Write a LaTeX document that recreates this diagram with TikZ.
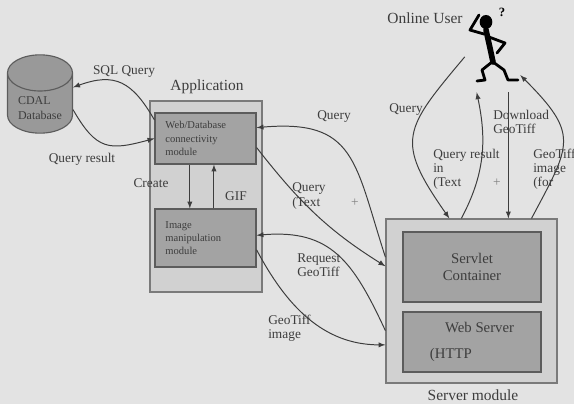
\documentclass[tikz,border=0pt]{standalone}
\usepackage{fontspec}
\setmainfont{Liberation Serif}
\usepackage{tikz}
\usetikzlibrary{arrows,shapes.geometric}

\definecolor{paper}{gray}{0.89}
\definecolor{ink}{gray}{0.24}
\definecolor{boxfill}{gray}{0.82}
\definecolor{boxline}{gray}{0.48}
\definecolor{modfill}{gray}{0.64}
\definecolor{modline}{gray}{0.36}
\definecolor{dbfill}{gray}{0.60}

\begin{document}
\begin{tikzpicture}[x=0.025cm,y=-0.025cm]
	\tikzstyle{outer}=[rectangle,draw=boxline,fill=boxfill,line width=0.8pt]
	\tikzstyle{module}=[rectangle,draw=modline,fill=modfill,line width=0.8pt,text=ink]
	\tikzstyle{lbl}=[text=ink,font=\fontsize{9.5}{10}\selectfont,inner sep=0pt]
	\tikzstyle{title}=[text=ink,font=\fontsize{11}{12}\selectfont,inner sep=0pt]
	\tikzstyle{link}=[draw=ink,line width=0.7pt,->,>=latex]
	\useasboundingbox[fill=paper] (0,0) rectangle (574,404);
	\node[cylinder,shape border rotate=90,aspect=0.68,anchor=shape center,draw=modline,fill=dbfill,line width=0.8pt,minimum width=1.625cm,minimum height=1.95cm,text=ink,font=\fontsize{8.5}{11}\selectfont,align=left] (db) at (40,94) {CDAL\\Database};
	\node[outer,minimum width=2.8cm,minimum height=4.775cm] (app) at (206,196.5) {};
	\node[module,minimum width=2.525cm,minimum height=1.275cm,text width=2cm,align=left,font=\fontsize{7.5}{9.5}\selectfont] (webmod) at (205.5,138.5) {Web/Database\\connectivity\\module};
	\node[module,minimum width=2.525cm,minimum height=1.45cm,text width=2cm,align=left,font=\fontsize{7.5}{9.5}\selectfont] (imgmod) at (205.5,238) {Image\\manipulation\\module};
	\node[outer,minimum width=4.275cm,minimum height=4.1cm] (server) at (471.5,301) {};
	\node[module,minimum width=3.45cm,minimum height=1.75cm,align=center,font=\fontsize{10.5}{12}\selectfont] (servlet) at (472,267) {Servlet\\Container};
	\node[module,minimum width=3.45cm,minimum height=1.5cm,align=left,font=\fontsize{10.5}{18}\selectfont] (websrv) at (472,342) {\hspace*{0.38cm}Web Server\\(HTTP};
	\node[minimum width=1.375cm,minimum height=2.05cm,inner sep=0pt] (user) at (492.5,51) {};
	\fill[black] (486,22) ellipse [x radius=4.5pt,y radius=5pt];
	\draw[black,line width=2pt,line cap=round,line join=round] (484,34) -- (470,30) -- (479,15);
	\draw[black,line width=4pt,line cap=round,line join=round] (486,30) -- (490,48) -- (493,62);
	\draw[black,line width=2pt,line cap=round,line join=round] (489,37) -- (505,43) -- (497,53);
	\draw[black,line width=2pt,line cap=round,line join=round] (492,62) -- (482,70) -- (485,80) -- (477,81);
	\draw[black,line width=2pt,line cap=round,line join=round] (493,62) -- (504,70) -- (508,80) -- (518,80);
	\node[text=black,font=\bfseries\fontsize{9}{10}\selectfont,inner sep=0pt] (puzzle) at (502,12) {?};
	\node[title] (applbl) at (207,87) {Application};
	\node[title] (srvlbl) at (473,395) {Server module};
	\node[title] (userlbl) at (425,18) {Online User};
	\node[lbl] (sqllbl) at (124,72) {SQL Query};
	\node[lbl] (qrlbl) at (82,159) {Query result};
	\node[lbl] (createlbl) at (151,183) {Create};
	\node[lbl] (giflbl) at (236,196) {GIF};
	\node[lbl] (qlbl) at (334,117) {Query};
	\node[lbl,anchor=west,align=left] (qtlbl) at (292,196) {Query\\(Text};
	\node[lbl,anchor=west,align=left] (reqlbl) at (297,265.5) {Request\\GeoTiff};
	\node[lbl,anchor=west,align=left] (tifflbl) at (268,328.5) {GeoTiff\\image};
	\node[lbl] (uqlbl) at (406,110) {Query};
	\node[lbl,anchor=west,align=left] (uqrlbl) at (433,169) {Query result\\in\\(Text};
	\node[lbl,anchor=west,align=left] (dllbl) at (493,121.5) {Download\\GeoTiff};
	\node[lbl,anchor=west,align=left] (uimglbl) at (533,169) {GeoTiff\\image\\(for};
	\node[lbl,text=gray] (plusa) at (355,203) {+};
	\node[lbl,text=gray] (plusb) at (497,183) {+};
	\draw[link] (webmod.160) to[out=120,in=20,looseness=1.3] (db.32);
	\draw[link] (db.-3) to[out=-60,in=195,looseness=1.4] (webmod.west);
	\draw[link] (webmod.239) -- (webmod.239 |- imgmod.north);
	\draw[link] (webmod.288 |- imgmod.north) -- (webmod.288);
	\draw[link] (server.153) to[out=108,in=5,looseness=1.4] (webmod.12);
	\draw[link] (webmod.-10) to[out=-52,in=148] (server.158);
	\draw[link] (server.199) to[out=115,in=5,looseness=1.2] (imgmod.3);
	\draw[link] (imgmod.-13) to[out=-62,in=180] (server.207);
	\draw[link] (user.192) to[out=230,in=125,looseness=1.5] (server.105);
	\draw[link] (server.97) to[out=62,in=-78] (user.249);
	\draw[link] (user.291) -- (user.291 |- server.north);
	\draw[link] (server.54) to[out=62,in=-45,looseness=1.5] (user.-41);
\end{tikzpicture}
\end{document}
